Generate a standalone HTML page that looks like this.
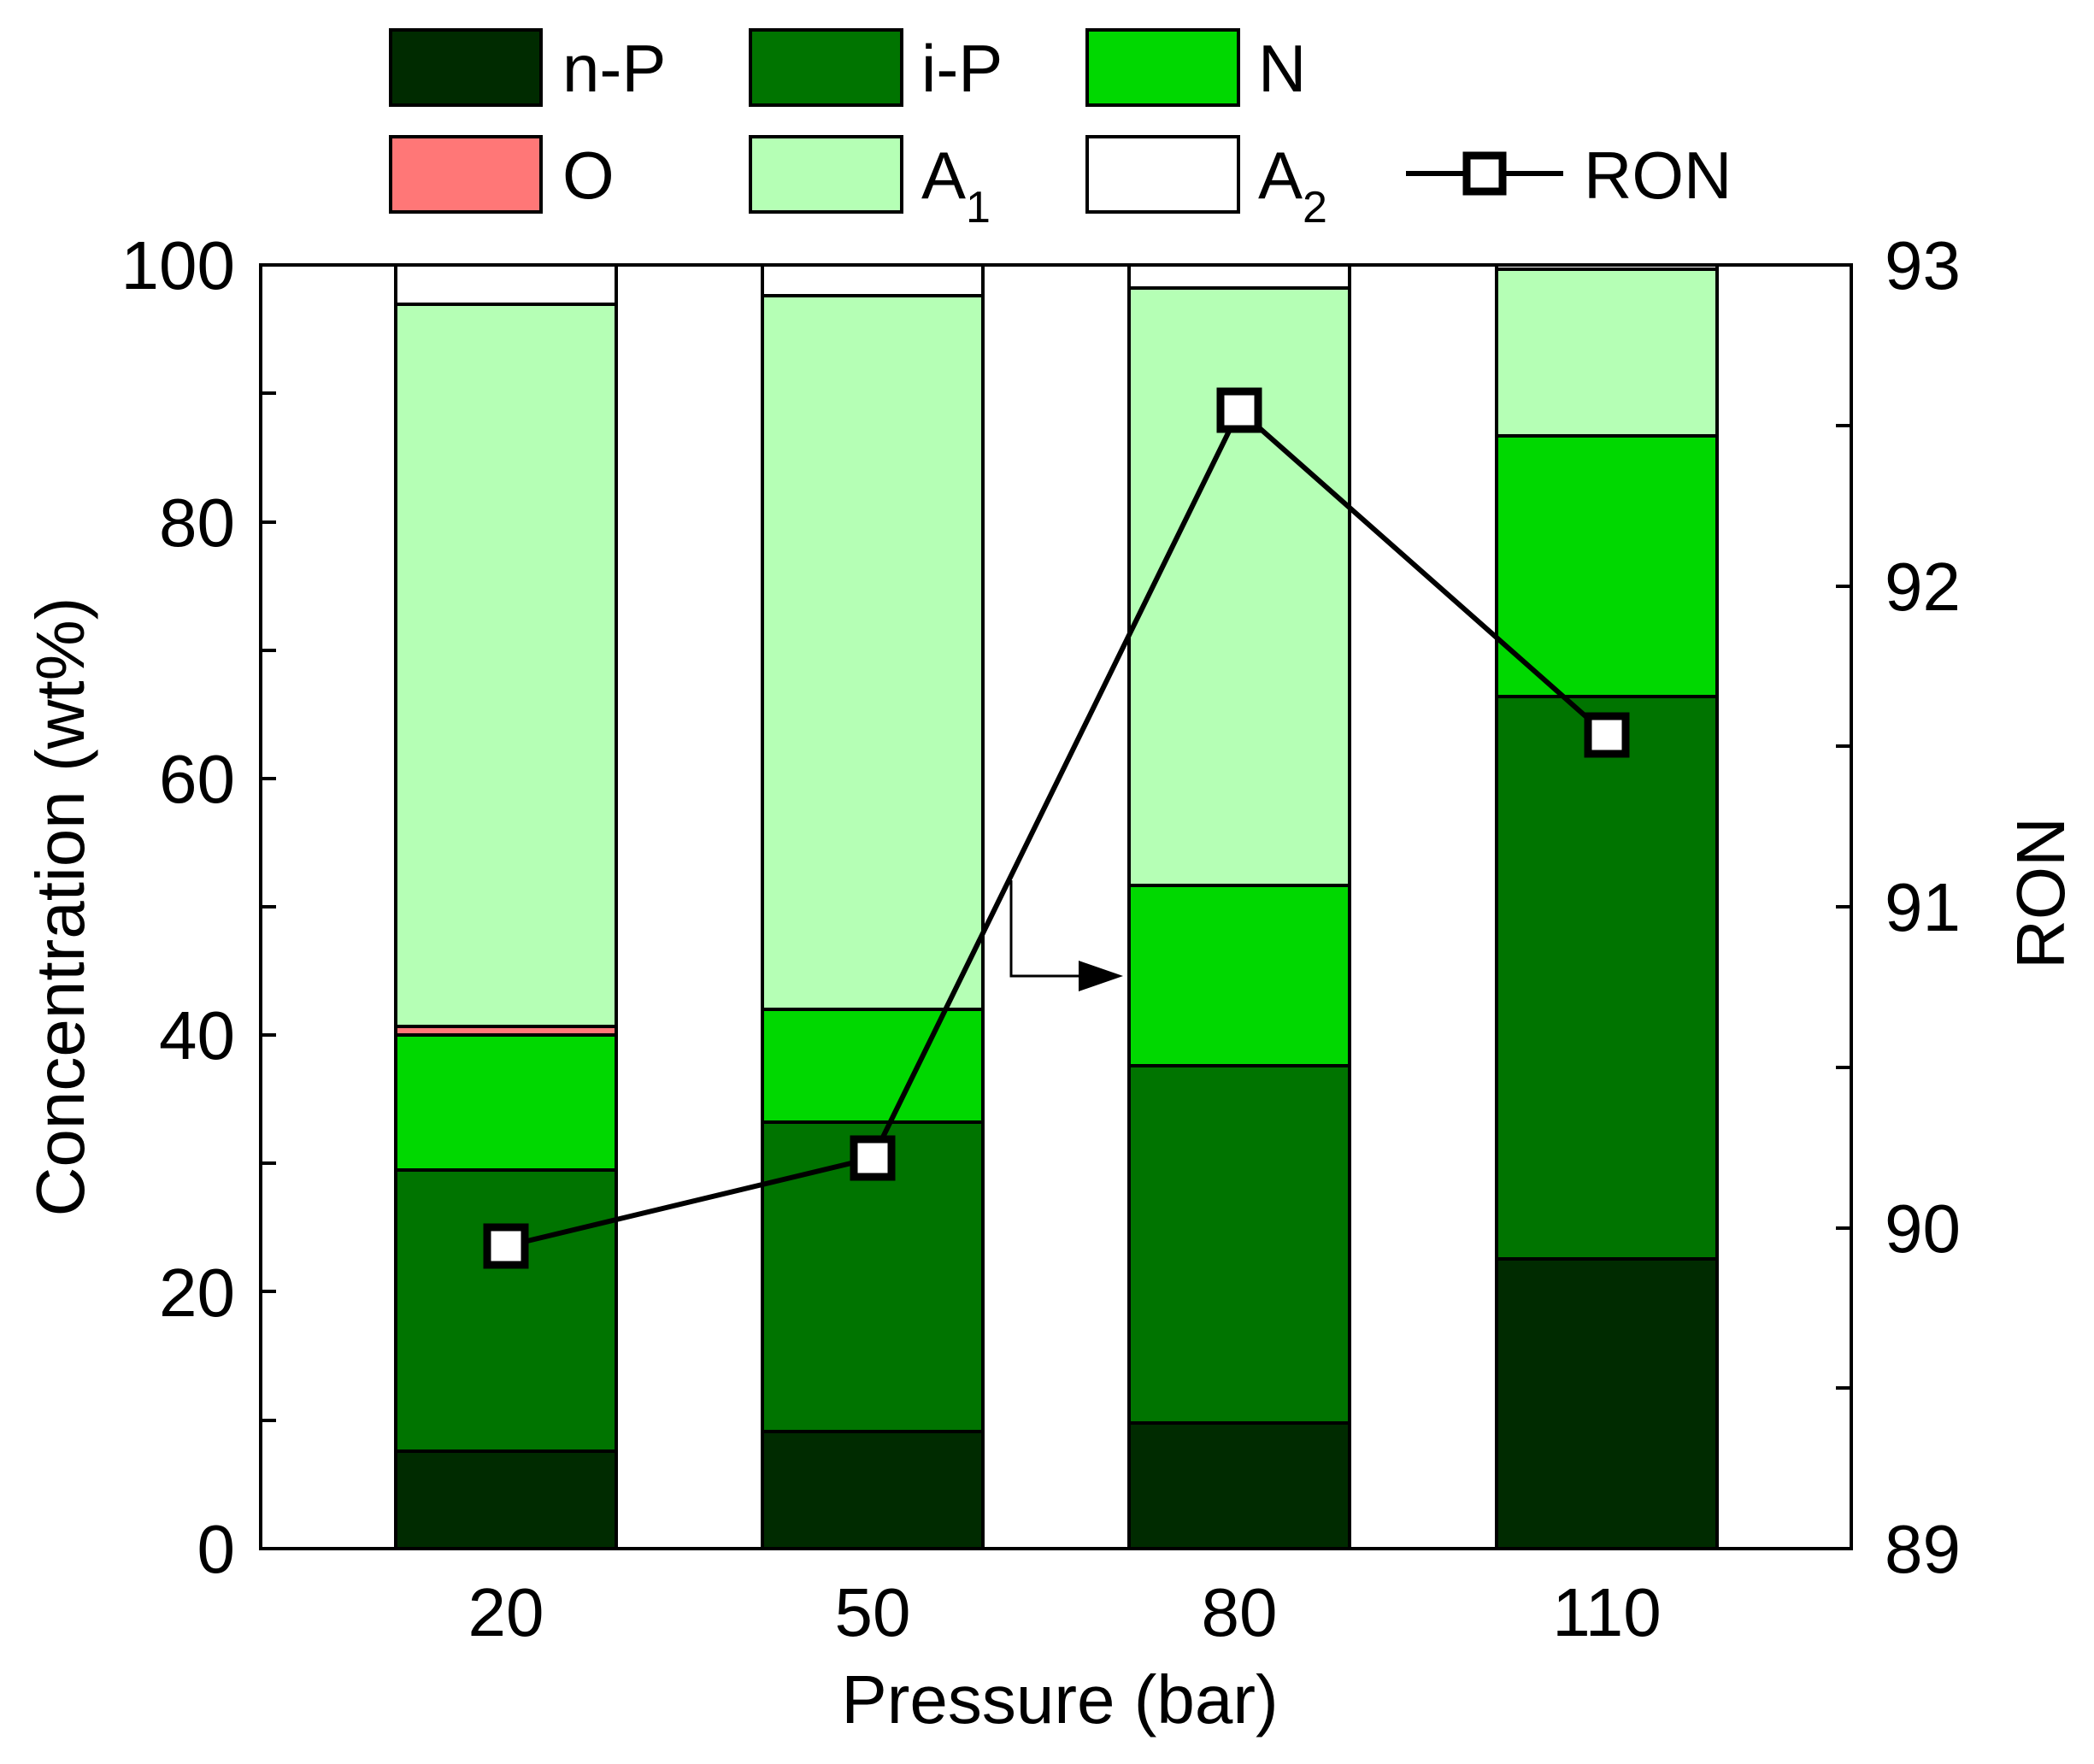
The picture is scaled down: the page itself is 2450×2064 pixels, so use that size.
<!DOCTYPE html>
<html><head><meta charset="utf-8"><style>
html,body{margin:0;padding:0;background:#fff;}
svg{display:block;font-family:"Liberation Sans",Arial,sans-serif;}
</style></head><body>
<svg width="2450" height="2064" viewBox="0 0 2450 2064" xmlns="http://www.w3.org/2000/svg">
<rect width="2450" height="2064" fill="#fff"/>
<g stroke="#000" stroke-width="4">
<rect x="463" y="1698" width="258" height="114" fill="#002b00"/>
<rect x="463" y="1369" width="258" height="329" fill="#007400"/>
<rect x="463" y="1211" width="258" height="158" fill="#00d800"/>
<rect x="463" y="1201" width="258" height="10" fill="#ff7777"/>
<rect x="463" y="356" width="258" height="845" fill="#b5ffb5"/>
<rect x="463" y="310" width="258" height="46" fill="#fff"/>
<rect x="892" y="1675" width="258" height="137" fill="#002b00"/>
<rect x="892" y="1313" width="258" height="362" fill="#007400"/>
<rect x="892" y="1181" width="258" height="132" fill="#00d800"/>
<rect x="892" y="346" width="258" height="835" fill="#b5ffb5"/>
<rect x="892" y="310" width="258" height="36" fill="#fff"/>
<rect x="1321" y="1665" width="258" height="147" fill="#002b00"/>
<rect x="1321" y="1247" width="258" height="418" fill="#007400"/>
<rect x="1321" y="1036" width="258" height="211" fill="#00d800"/>
<rect x="1321" y="337" width="258" height="699" fill="#b5ffb5"/>
<rect x="1321" y="310" width="258" height="27" fill="#fff"/>
<rect x="1751" y="1473" width="258" height="339" fill="#002b00"/>
<rect x="1751" y="815" width="258" height="658" fill="#007400"/>
<rect x="1751" y="510" width="258" height="305" fill="#00d800"/>
<rect x="1751" y="315" width="258" height="195" fill="#b5ffb5"/>
<rect x="1751" y="310" width="258" height="5" fill="#fff"/>
</g>
<rect x="305" y="310" width="1861" height="1502" fill="none" stroke="#000" stroke-width="4"/>
<g stroke="#000" stroke-width="4">
<line x1="305" y1="1662" x2="323" y2="1662"/><line x1="305" y1="1511" x2="323" y2="1511"/>
<line x1="305" y1="1361" x2="323" y2="1361"/><line x1="305" y1="1211" x2="323" y2="1211"/>
<line x1="305" y1="1061" x2="323" y2="1061"/><line x1="305" y1="911" x2="323" y2="911"/>
<line x1="305" y1="761" x2="323" y2="761"/><line x1="305" y1="611" x2="323" y2="611"/>
<line x1="305" y1="460" x2="323" y2="460"/>
<line x1="2148" y1="1624" x2="2166" y2="1624"/><line x1="2148" y1="1437" x2="2166" y2="1437"/>
<line x1="2148" y1="1249" x2="2166" y2="1249"/><line x1="2148" y1="1061" x2="2166" y2="1061"/>
<line x1="2148" y1="873" x2="2166" y2="873"/><line x1="2148" y1="686" x2="2166" y2="686"/>
<line x1="2148" y1="498" x2="2166" y2="498"/>
</g>
<g font-size="80" text-anchor="end">
<text x="275" y="1840">0</text><text x="275" y="1540">20</text><text x="275" y="1239">40</text>
<text x="275" y="939">60</text><text x="275" y="639">80</text><text x="275" y="338">100</text>
</g>
<g font-size="80" text-anchor="start">
<text x="2205" y="1840">89</text><text x="2205" y="1465">90</text><text x="2205" y="1089">91</text>
<text x="2205" y="714">92</text><text x="2205" y="338">93</text>
</g>
<g font-size="80" text-anchor="middle">
<text x="592" y="1914">20</text><text x="1021" y="1914">50</text>
<text x="1450" y="1914">80</text><text x="1880" y="1914">110</text>
<text x="1240" y="2016">Pressure (bar)</text>
</g>
<text font-size="80" text-anchor="middle" transform="translate(98,1061) rotate(-90)">Concentration (wt%)</text>
<text font-size="80" text-anchor="middle" transform="translate(2415,1045) rotate(-90)">RON</text>
<polyline points="1183,1030 1183,1142 1270,1142" fill="none" stroke="#000" stroke-width="3"/>
<polygon points="1262,1124 1314,1142 1262,1160" fill="#000"/>
<polyline points="592,1458 1021,1355 1450,480 1880,860" fill="none" stroke="#000" stroke-width="6"/>
<g fill="#fff" stroke="#000" stroke-width="9">
<rect x="570" y="1436" width="44" height="44"/>
<rect x="999" y="1333" width="44" height="44"/>
<rect x="1428" y="458" width="44" height="44"/>
<rect x="1858" y="838" width="44" height="44"/>
</g>
<g stroke="#000" stroke-width="4">
<rect x="457" y="35" width="176" height="88" fill="#002b00"/>
<rect x="878" y="35" width="177" height="88" fill="#007400"/>
<rect x="1272" y="35" width="177" height="88" fill="#00d800"/>
<rect x="457" y="160" width="176" height="88" fill="#ff7777"/>
<rect x="878" y="160" width="177" height="88" fill="#b5ffb5"/>
<rect x="1272" y="160" width="177" height="88" fill="#fff"/>
</g>
<line x1="1645" y1="203" x2="1829" y2="203" stroke="#000" stroke-width="6"/>
<rect x="1716" y="182" width="42" height="42" fill="#fff" stroke="#000" stroke-width="9"/>
<g font-size="78">
<text x="658" y="107">n-P</text><text x="1078" y="107">i-P</text><text x="1472" y="107">N</text>
<text x="658" y="232">O</text>
<text x="1078" y="232">A<tspan font-size="52" dy="28">1</tspan></text>
<text x="1472" y="232">A<tspan font-size="52" dy="28">2</tspan></text>
<text x="1853" y="232">RON</text>
</g>
</svg>
</body></html>
